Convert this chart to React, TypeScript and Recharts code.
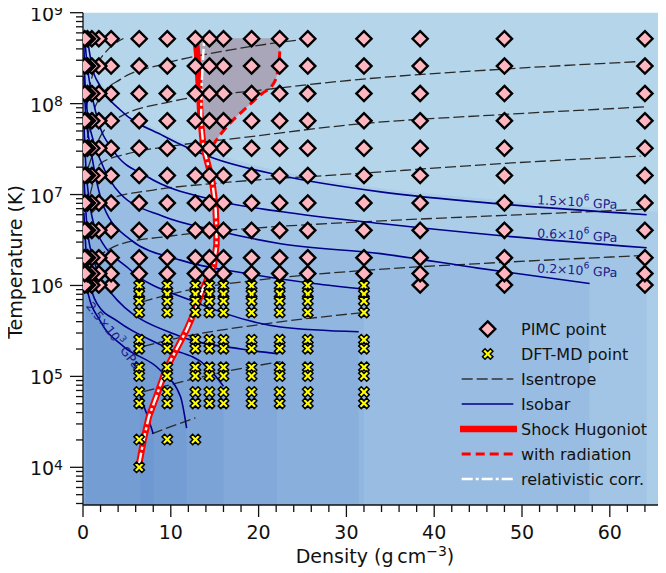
import React from 'react';
import { ComposedChart, XAxis, YAxis, Line, Area, Scatter, ReferenceArea } from 'recharts';

const FONT = '"DejaVu Sans", Verdana, sans-serif';
const W = 666;
const H = 573;
const X_MAX = 66.4;
const Y_MIN = 3850;
const Y_MAX = 1e9;

// ---------- data points ----------
const pimcDensities = [64.0, 48.0, 38.4, 32.0, 25.6, 22.4, 19.2, 16.0, 14.4, 12.8, 9.6, 6.4, 3.2, 1.8, 1.0, 0.5, 0.2];
const pimcTemps = [1.01e6, 1.35e6, 2.02e6, 4.04e6, 8.08e6, 1.62e7, 3.23e7, 6.47e7, 1.29e8, 2.59e8, 5.17e8];
const pimcLowestTDensities = [64.0, 48.0, 38.4, 3.2, 1.8, 1.0, 0.5, 0.2];

const dftDensities = [6.4, 9.6, 12.8, 14.4, 16.0, 19.2, 22.4, 25.6, 32.0];
const dftTemps = [1.0e6, 8.08e5, 6.73e5, 5.05e5, 2.53e5, 2.02e5, 1.26e5, 1.01e5, 6.73e4, 5.05e4];
const dftExtraPoints: [number, number][] = [[6.4, 2.02e4], [9.6, 2.02e4], [12.8, 2.02e4], [6.4, 1.0e4]];

// ---------- curves [density, temperature] ----------
const hugoniot: [number, number][] = [
  [6.4, 1.1e4], [6.9, 2.0e4], [7.5, 3.6e4], [8.4, 6.2e4], [9.4, 1.17e5], [10.6, 1.95e5], [11.8, 3.24e5],
  [12.8, 5.4e5], [13.6, 8.9e5], [14.2, 1.2e6], [14.9, 1.66e6], [15.2, 2.8e6], [15.2, 4.0e6], [15.1, 7.1e6],
  [14.7, 1.45e7], [14.1, 2.4e7], [13.7, 3.4e7], [13.4, 6.6e7], [13.2, 1.55e8], [13.0, 3.55e8], [12.8, 5.5e8],
];
const relativistic: [number, number][] = [
  [6.4, 1.1e4], [6.9, 2.0e4], [7.5, 3.6e4], [8.4, 6.2e4], [9.4, 1.17e5], [10.6, 1.95e5], [11.8, 3.24e5],
  [12.8, 5.4e5], [13.6, 8.9e5], [14.2, 1.2e6], [14.9, 1.66e6], [15.2, 2.8e6], [15.2, 4.0e6], [15.1, 7.1e6],
  [14.7, 1.45e7], [14.1, 2.4e7], [13.7, 3.4e7], [13.45, 6.6e7], [13.5, 1.55e8], [13.7, 3.55e8], [13.8, 5.2e8],
];
const radiation: [number, number][] = [
  [14.0, 2.5e7], [14.9, 3.6e7], [16.4, 5.6e7], [18.3, 8.5e7], [20.4, 1.29e8], [21.7, 1.66e8],
  [22.2, 2.34e8], [22.4, 3.55e8], [22.5, 5.0e8],
];
// gray band between Hugoniot and radiation curve: [density, lower T, upper T]
const radiationGap: [number, number, number][] = [
  [12.85, 5.2e8, 5.25e8], [13.0, 3.55e8, 5.25e8], [13.2, 1.55e8, 5.25e8], [13.4, 6.6e7, 5.25e8],
  [13.7, 3.4e7, 5.25e8], [14.0, 2.5e7, 5.25e8], [14.9, 3.6e7, 5.25e8], [16.4, 5.6e7, 5.25e8],
  [18.3, 8.5e7, 5.25e8], [20.4, 1.29e8, 5.25e8], [21.7, 1.66e8, 5.25e8], [22.2, 2.34e8, 5.25e8],
  [22.4, 3.55e8, 5.25e8], [22.5, 5.0e8, 5.25e8],
];

const isentropes: [number, number][][] = [
  [[0.4, 8.9e7], [0.8, 1.6e8], [1.4, 2.45e8], [2.6, 3.7e8], [4.6, 5.2e8]],
  [[0.5, 4.2e7], [1.0, 7.1e7], [2.0, 1.2e8], [4.3, 1.86e8], [9.0, 2.7e8], [16.8, 3.9e8], [25.9, 5.2e8]],
  [[0.6, 2.0e7], [1.5, 3.5e7], [4.25, 7.2e7], [10, 1.05e8], [20, 1.4e8], [31.6, 1.85e8], [48, 2.4e8], [63.3, 2.9e8]],
  [[0.8, 1.0e7], [2.0, 2.2e7], [5, 2.8e7], [10, 3.4e7], [17.9, 4.2e7], [31.6, 6.0e7], [48, 7.6e7], [64, 9.2e7]],
  [[1.0, 6.3e6], [3, 8.9e6], [8, 1.12e7], [16, 1.35e7], [31.6, 1.71e7], [48, 2.2e7], [63.5, 2.65e7]],
  [[1.5, 2.0e6], [4, 2.8e6], [10, 3.5e6], [20, 4.3e6], [31.6, 5.0e6], [48, 5.9e6], [64, 6.9e6]],
  [[6.7, 6.6e5], [12, 8.9e5], [20, 1.15e6], [32.7, 1.48e6], [48, 1.8e6], [64, 2.14e6]],
  [[6.9, 2.14e5], [12, 2.8e5], [20, 3.7e5], [31.6, 5.0e5]],
  [[6.9, 6.8e4], [12, 9.1e4], [17, 1.17e5], [22.5, 1.45e5]],
  [[7.85, 2.34e4], [10, 2.8e4], [12.8, 3.5e4]],
];

const isobars: [number, number][][] = [
  [[0.45, 5.2e8], [0.64, 4.2e8], [1.0, 2.6e8], [1.97, 1.55e8], [4.25, 8.5e7], [9.18, 4.4e7], [14.9, 2.5e7], [22.5, 1.62e7], [33.9, 1.07e7], [48, 7.8e6], [64.2, 6.0e6]],
  [[0.2, 5.2e8], [0.35, 3.5e8], [0.64, 2.0e8], [1.6, 7.1e7], [3.5, 3.0e7], [7.3, 1.58e7], [14.9, 8.7e6], [22.5, 6.5e6], [33.9, 4.8e6], [48, 3.5e6], [64.2, 2.6e6]],
  [[0.08, 5.2e8], [0.2, 2.0e8], [0.5, 7.9e7], [1.0, 4.5e7], [1.97, 2.4e7], [4.25, 1.02e7], [9.18, 5.75e6], [14.9, 4.07e6], [22.5, 2.88e6], [33.9, 2.24e6], [45, 1.55e6], [57.7, 1.05e6]],
  [[0.1, 2.0e8], [0.3, 7.9e7], [0.83, 3.4e7], [2.35, 7.4e6], [5.4, 3.2e6], [11.1, 1.9e6], [18.7, 1.35e6], [26.3, 1.05e6], [32, 9.1e5]],
  [[0.1, 6.3e7], [0.4, 1.6e7], [1.5, 4.0e6], [5.4, 1.48e6], [12.2, 6.9e5], [22.5, 3.5e5], [31.4, 3.1e5]],
  [[0.1, 1.6e7], [0.5, 4.0e6], [1.5, 1.58e6], [3.1, 8.5e5], [11.1, 2.75e5], [18, 2.0e5], [22.1, 1.78e5]],
  [[0.1, 6.3e6], [0.5, 1.58e6], [1.6, 6.3e5], [4, 4.0e5], [9.2, 2.14e5], [14.1, 1.29e5], [16.0, 7.8e4]],
  [[0.1, 2.5e6], [0.5, 8.9e5], [2.0, 4.0e5], [4.6, 2.14e5], [8.8, 1.17e5], [11.1, 6.0e4], [11.8, 2.7e4]],
  [[6.5, 6.0e4], [7.2, 4.0e4], [8.0, 2.34e4]],
];
// shaded region below the highest isobar, continued to the right edge
const topShadeBoundary: [number, number][] = [
  [0.35, 5.2e8], [1.0, 3.0e8], [2.0, 1.8e8], [3.4, 1.05e8], [7.7, 5.6e7], [14.9, 2.85e7], [22.5, 1.8e7],
  [33.9, 1.17e7], [48, 8.6e6], [64, 6.6e6], [66.4, 6.4e6],
];

const isobarLabels = [
  { x: 56.3, y: 8.3e6, text: '1.5×10', exp: '6', angle: 3 },
  { x: 56.3, y: 3.59e6, text: '0.6×10', exp: '6', angle: 3 },
  { x: 56.3, y: 1.48e6, text: '0.2×10', exp: '6', angle: 3 },
  { x: 3.5, y: 2.85e5, text: '2.5×10', exp: '3', angle: 52 },
];

// ---------- helpers ----------
const toPts = (arr: [number, number][]) => arr.map(([x, y]) => ({ x, y }));
const toFill = (arr: [number, number][]) => arr.map(([x, y]) => ({ x, r: [Y_MIN, y] }));

const pimcPoints: { x: number; y: number }[] = [];
pimcTemps.forEach((t) => {
  pimcDensities.forEach((d) => {
    if (t < 1.2e6 && !pimcLowestTDensities.includes(d)) return;
    pimcPoints.push({ x: d, y: t });
  });
});
const dftPoints: { x: number; y: number }[] = [];
dftTemps.forEach((t) => dftDensities.forEach((d) => dftPoints.push({ x: d, y: t })));
dftExtraPoints.forEach(([d, t]) => dftPoints.push({ x: d, y: t }));

const xTicks: number[] = [];
for (let v = 0; v <= 66; v += 2) xTicks.push(v);
const yTicks: number[] = [];
for (let e = 3; e <= 8; e++) for (let m = 1; m <= 9; m++) { const v = m * Math.pow(10, e); if (v >= Y_MIN && v <= Y_MAX) yTicks.push(v); }
yTicks.push(1e9);

const INK = '#111';
const SHADE = '#053eb9';
const SHADE_OP = 0.05;

const XTick = (props: any) => {
  const { x, y, payload } = props;
  const v = payload.value;
  const major = Math.abs(v / 10 - Math.round(v / 10)) < 1e-6;
  return (
    <g>
      <line x1={x} x2={x} y1={y} y2={y + (major ? 12 : 7)} stroke={INK} strokeWidth={1.3} />
      {major && (
        <text x={x} y={y + 34} textAnchor="middle" fontSize={19} fontFamily={FONT} fill={INK}>{v}</text>
      )}
    </g>
  );
};

const YTick = (props: any) => {
  const { x, y, payload } = props;
  const v = payload.value;
  const lg = Math.log10(v);
  const e = Math.round(lg);
  const major = Math.abs(lg - e) < 1e-6;
  return (
    <g>
      <line x1={x} x2={x - (major ? 13 : 7)} y1={y} y2={y} stroke={INK} strokeWidth={1.3} />
      {major && (
        <text x={x - 20} y={y + 8} textAnchor="end" fontSize={19} fontFamily={FONT} fill={INK}>
          10<tspan dy={-5.5} fontSize={14}>{e}</tspan>
        </text>
      )}
    </g>
  );
};

const Diamond = (p: any) => {
  const { cx, cy } = p;
  const s = 7.6;
  return <path d={`M${cx},${cy - s}L${cx + s},${cy}L${cx},${cy + s}L${cx - s},${cy}Z`} fill="#ffb6c1" stroke="#000" strokeWidth={2.4} />;
};

const plusPath = (s: number, w: number) =>
  `M${w},${s}L${w},${w}L${s},${w}L${s},${-w}L${w},${-w}L${w},${-s}L${-w},${-s}L${-w},${-w}L${-s},${-w}L${-s},${w}L${-w},${w}L${-w},${s}Z`;

const XMark = (p: any) => {
  const { cx, cy } = p;
  return <path d={plusPath(5.6, 1.8)} transform={`translate(${cx},${cy}) rotate(45)`} fill="#ffff00" stroke="#000" strokeWidth={1.5} />;
};

const LabelShape = (p: any) => {
  const { cx, cy, payload } = p;
  return (
    <text x={cx} y={cy} transform={`rotate(${payload.angle},${cx},${cy})`} textAnchor="middle" dominantBaseline="central" fontSize={12.5} fontFamily={FONT} fill="#1a1a8c">
      {payload.text}<tspan dy={-5} fontSize={9}>{payload.exp}</tspan><tspan dy={5}> GPa</tspan>
    </text>
  );
};

const Legend = () => {
  const rows = [
    'PIMC point', 'DFT-MD point', 'Isentrope', 'Isobar', 'Shock Hugoniot', 'with radiation', 'relativistic corr.',
  ];
  const y0 = 329;
  const dy = 25;
  const lx1 = 461.7, lx2 = 513.3, tx = 521;
  const mx = 487.7;
  return (
    <g fontFamily={FONT} fontSize={16} fill="#111">
      {rows.map((r, i) => (
        <text key={r} x={tx} y={y0 + i * dy} dominantBaseline="central">{r}</text>
      ))}
      <path d={`M${mx},${y0 - 7.6}L${mx + 7.6},${y0}L${mx},${y0 + 7.6}L${mx - 7.6},${y0}Z`} fill="#ffb6c1" stroke="#000" strokeWidth={2.4} />
      <path d={plusPath(5.6, 1.8)} transform={`translate(${mx},${y0 + dy}) rotate(45)`} fill="#ffff00" stroke="#000" strokeWidth={1.5} />
      <line x1={lx1} x2={lx2} y1={y0 + 2 * dy} y2={y0 + 2 * dy} stroke="#333" strokeWidth={1.3} strokeDasharray="11 4" />
      <line x1={lx1} x2={lx2} y1={y0 + 3 * dy} y2={y0 + 3 * dy} stroke="#00008b" strokeWidth={1.6} />
      <line x1={460} x2={517} y1={y0 + 4 * dy} y2={y0 + 4 * dy} stroke="#ff0000" strokeWidth={6.5} />
      <line x1={lx1} x2={lx2} y1={y0 + 5 * dy} y2={y0 + 5 * dy} stroke="#ff0000" strokeWidth={3} strokeDasharray="9 5" />
      <line x1={lx1} x2={lx2} y1={y0 + 6 * dy} y2={y0 + 6 * dy} stroke="#ffffff" strokeWidth={2.6} strokeDasharray="11 3 3 3" />
    </g>
  );
};

export default function App() {
  return (
    <div style={{ position: 'relative', left: -8, top: -8, width: W, height: H }}>
      <ComposedChart width={W} height={H} margin={{ top: 12.7, right: 0, bottom: 0, left: 0 }}>
        <XAxis type="number" dataKey="x" domain={[0, X_MAX]} allowDataOverflow ticks={xTicks} interval={0}
          tick={<XTick />} tickLine={false} tickSize={0} tickMargin={0} height={68} axisLine={{ stroke: INK, strokeWidth: 1.3 }} />
        <YAxis type="number" dataKey="y" scale="log" domain={[Y_MIN, Y_MAX]} allowDataOverflow ticks={yTicks} interval={0}
          tick={<YTick />} tickLine={false} tickSize={0} tickMargin={0} width={83} axisLine={{ stroke: INK, strokeWidth: 1.3 }} />
        <ReferenceArea x1={0} x2={X_MAX} y1={Y_MIN} y2={Y_MAX} fill="#b5d5eb" fillOpacity={1} stroke="none" />
        <Area data={toFill(topShadeBoundary)} dataKey="r" type="monotone" fill={SHADE} fillOpacity={SHADE_OP}
          stroke="none" isAnimationActive={false} activeDot={false} dot={false} />
        {isobars.slice(1).map((c, i) => (
          <Area key={'fill' + i} data={toFill(c)} dataKey="r" type="monotone" fill={SHADE} fillOpacity={SHADE_OP}
            stroke="none" isAnimationActive={false} activeDot={false} dot={false} />
        ))}
        <Area data={radiationGap.map(([x, lo, hi]) => ({ x, r: [lo, hi] }))} dataKey="r" type="monotone"
          fill="#a8a6b8" fillOpacity={1} stroke="none" isAnimationActive={false} activeDot={false} dot={false} />
        {isentropes.map((c, i) => (
          <Line key={'ise' + i} data={toPts(c)} dataKey="y" type="monotone" stroke="#2a2a2a" strokeWidth={1.3}
            strokeDasharray="11 4" dot={false} activeDot={false} isAnimationActive={false} />
        ))}
        {isobars.map((c, i) => (
          <Line key={'iso' + i} data={toPts(c)} dataKey="y" type="monotone" stroke="#00008b" strokeWidth={1.6}
            dot={false} activeDot={false} isAnimationActive={false} />
        ))}
        <Scatter data={pimcPoints} shape={<Diamond />} isAnimationActive={false} />
        <Scatter data={dftPoints} shape={<XMark />} isAnimationActive={false} />
        <Line data={toPts(radiation)} dataKey="y" type="monotone" stroke="#ff0000" strokeWidth={3} strokeDasharray="9 5"
          dot={false} activeDot={false} isAnimationActive={false} />
        <Line data={toPts(hugoniot)} dataKey="y" type="linear" stroke="#ff0000" strokeWidth={6.5}
          dot={false} activeDot={false} isAnimationActive={false} />
        <Line data={toPts(relativistic)} dataKey="y" type="linear" stroke="#ffffff" strokeWidth={2.4} strokeDasharray="11 3 3 3"
          dot={false} activeDot={false} isAnimationActive={false} />
        <Scatter data={isobarLabels} shape={<LabelShape />} isAnimationActive={false} />
      </ComposedChart>
      <svg width={W} height={H} style={{ position: 'absolute', left: 0, top: 0, pointerEvents: 'none' }}>
        <Legend />
        <text transform="translate(15,262) rotate(-90)" textAnchor="middle" dominantBaseline="central" fontSize={19} fontFamily={FONT} fill={INK}>Temperature (K)</text>
        <text x={375} y={563} textAnchor="middle" fontSize={19} fontFamily={FONT} fill={INK}>
          Density (g{'\u2009'}cm<tspan dy={-7} fontSize={14}>−3</tspan><tspan dy={7}>)</tspan>
        </text>
      </svg>
    </div>
  );
}
